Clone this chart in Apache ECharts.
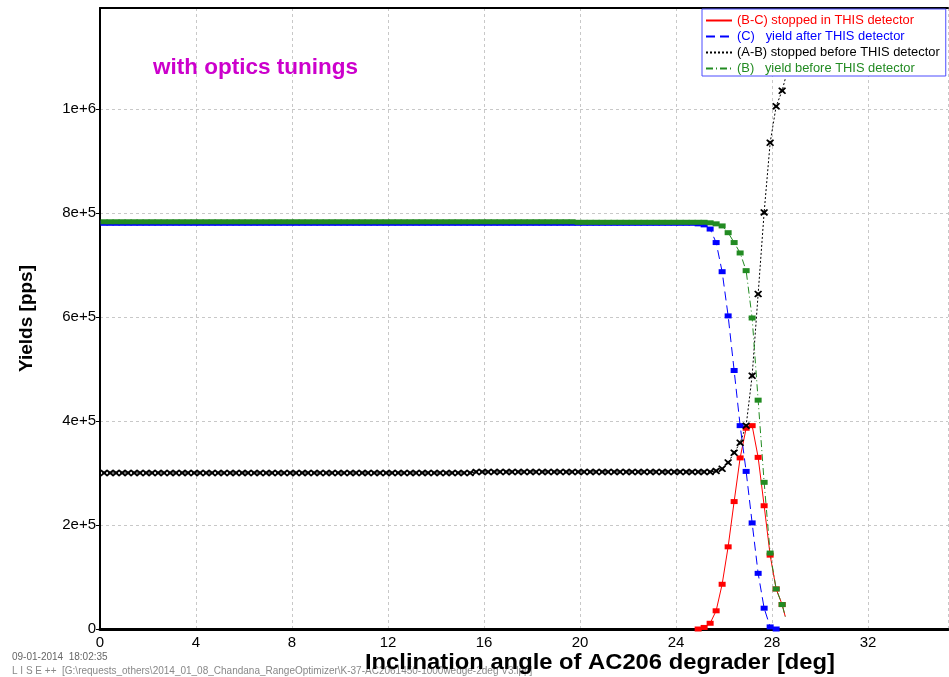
<!DOCTYPE html>
<html>
<head>
<meta charset="utf-8">
<script src="https://cdn.jsdelivr.net/npm/echarts@6/dist/echarts.min.js"></script>
<style>
    html, body { margin: 0; padding: 0; background: #fff; }
    #chart { width: 949px; height: 677px; }
</style>
</head>
<body>
<div id="chart"></div>
<script>
// yields in kpps (axis labels convert back to pps)
var flatAngles = [
    0.17, 0.42, 0.67, 0.92, 1.17, 1.42, 1.67, 1.92,
    2.17, 2.42, 2.67, 2.92, 3.17, 3.42, 3.67, 3.92,
    4.17, 4.42, 4.67, 4.92, 5.17, 5.42, 5.67, 5.92,
    6.17, 6.42, 6.67, 6.92, 7.17, 7.42, 7.67, 7.92,
    8.17, 8.42, 8.67, 8.92, 9.17, 9.42, 9.67, 9.92,
    10.17, 10.42, 10.67, 10.92, 11.17, 11.42, 11.67, 11.92,
    12.17, 12.42, 12.67, 12.92, 13.17, 13.42, 13.67, 13.92,
    14.17, 14.42, 14.67, 14.92, 15.17, 15.42, 15.67, 15.92,
    16.17, 16.42, 16.67, 16.92, 17.17, 17.42, 17.67, 17.92,
    18.17, 18.42, 18.67, 18.92, 19.17, 19.42, 19.67, 19.92,
    20.17, 20.42, 20.67, 20.92, 21.17, 21.42, 21.67, 21.92,
    22.17, 22.42, 22.67, 22.92, 23.17, 23.42, 23.67, 23.92,
    24.17, 24.42, 24.67
];
var blackFlat = [
    300, 300, 300, 300, 300, 300, 300, 300,
    300, 300, 300, 300, 300, 300, 300, 300,
    300, 300, 300, 300, 300, 300, 300, 300,
    300, 300, 300, 300, 300, 300, 300, 300,
    300, 300, 300, 300, 300, 300, 300, 300,
    300, 300, 300, 300, 300, 300, 300, 300,
    300, 300, 300, 300, 300, 300, 300, 300,
    300, 300, 300, 300, 300, 300, 302, 302,
    302, 302, 302, 302, 302, 302, 302, 302,
    302, 302, 302, 302, 302, 302, 302, 302,
    302, 302, 302, 302, 302, 302, 302, 302,
    302, 302, 302, 302, 302, 302, 302, 302,
    302, 302, 302
];
var blueFlat = [
    780, 780, 780, 780, 780, 780, 780, 780,
    780, 780, 780, 780, 780, 780, 780, 780,
    780, 780, 780, 780, 780, 780, 780, 780,
    780, 780, 780, 780, 780, 780, 780, 780,
    780, 780, 780, 780, 780, 780, 780, 780,
    780, 780, 780, 780, 780, 780, 780, 780,
    780, 780, 780, 780, 780, 780, 780, 780,
    780, 780, 780, 780, 780, 780, 780, 780,
    780, 780, 780, 780, 780, 780, 780, 780,
    780, 780, 780, 780, 780, 780, 780, 780,
    780, 780, 780, 780, 780, 780, 780, 780,
    780, 780, 780, 780, 780, 780, 780, 780,
    780, 780, 780
];
var greenFlat = [
    783, 783, 783, 783, 783, 783, 783, 783,
    783, 783, 783, 783, 783, 783, 783, 783,
    783, 783, 783, 783, 783, 783, 783, 783,
    783, 783, 783, 783, 783, 783, 783, 783,
    783, 783, 783, 783, 783, 783, 783, 783,
    783, 783, 783, 783, 783, 783, 783, 783,
    783, 783, 783, 783, 783, 783, 783, 783,
    783, 783, 783, 783, 783, 783, 783, 783,
    783, 783, 783, 783, 783, 783, 783, 783,
    783, 783, 783, 783, 783, 783, 783, 782,
    782, 782, 782, 782, 782, 782, 782, 782,
    782, 782, 782, 782, 782, 782, 782, 782,
    782, 782, 782
];

var tailAngles = [24.92, 25.17, 25.42, 25.67, 25.92, 26.17, 26.42, 26.67,
                  26.92, 27.17, 27.42, 27.67, 27.92, 28.17, 28.42, 28.55];
var redTail   = [0, 3, 11, 35, 86, 158, 245, 329, 386, 391, 330, 237, 142, 77, 47, 24];
var blueTail  = [779, 777, 769, 743, 687, 602, 497, 391, 303, 204, 107, 40, 4, 0, null, null];
var blackTail = [302, 302, 302, 304, 308, 320, 339, 358, 391, 487, 644, 801, 935, 1005, 1035, 1058];
var greenTail = [782, 782, 781, 779, 775, 762, 743, 723, 689, 598, 440, 282, 146, 77, 47, 24];

var names = [
    '(B-C) stopped in THIS detector',
    '(C)   yield after THIS detector',
    '(A-B) stopped before THIS detector',
    '(B)   yield before THIS detector'
];
var colors = ['#ff0000', '#0000ff', '#000000', '#228b22'];

function buildData(flat, tail) {
    var out = [];
    if (flat) {
        for (var i = 0; i < flatAngles.length; i++) {
            out.push([flatAngles[i], flat[i]]);
        }
    }
    for (var j = 0; j < tailAngles.length; j++) {
        if (tail[j] === null) {
            continue;
        }
        // last point only closes the line, no marker
        if (j === tailAngles.length - 1) {
            out.push({value: [tailAngles[j], tail[j]], symbol: 'none'});
        }
        else {
            out.push([tailAngles[j], tail[j]]);
        }
    }
    return out;
}

var star = 'path://M0,3L3,0L10,6L17,0L20,3L14,10L20,17L17,20L10,14L3,20L0,17L6,10Z';
var font = 'Liberation Sans';

var chart = echarts.init(document.getElementById('chart'));

var option = {
    backgroundColor: '#fff',
    animation: false,
    textStyle: {fontFamily: font},
    grid: {left: 100, top: 8, right: 1, bottom: 48},
    legend: {
        orient: 'vertical',
        left: 702,
        top: 9,
        padding: [5, 6, 1, 3],
        itemGap: 3,
        itemWidth: 26,
        itemHeight: 12,
        backgroundColor: '#fff',
        borderColor: '#4c4cff',
        borderWidth: 1,
        borderRadius: 0,
        itemStyle: {opacity: 0},
        textStyle: {fontSize: 12.9, lineHeight: 13, fontFamily: font},
        data: names.map(function (n, i) {
            return {name: n, textStyle: {color: colors[i]}};
        })
    },
    xAxis: [
        {
            type: 'value',
            min: 0,
            max: 35.33,
            interval: 4,
            axisLine: {show: true, lineStyle: {color: '#000', width: 3}},
            axisTick: {show: false},
            axisLabel: {fontSize: 15, color: '#000', margin: 6, showMaxLabel: false},
            splitLine: {show: true, lineStyle: {color: '#c8c8c8', type: [3, 3]}}
        },
        {
            type: 'value',
            position: 'top',
            min: 0,
            max: 35.33,
            interval: 4,
            axisLine: {show: true, lineStyle: {color: '#000', width: 2}},
            axisTick: {show: false},
            axisLabel: {show: false},
            splitLine: {show: false}
        }
    ],
    yAxis: {
        type: 'value',
        min: 0,
        max: 1194,
        interval: 200,
        name: 'Yields [pps]',
        nameLocation: 'middle',
        nameGap: 64,
        nameTextStyle: {fontSize: 19, fontWeight: 'bold', color: '#000'},
        axisLine: {show: true, lineStyle: {color: '#000', width: 2}},
        axisTick: {show: true, length: 4, lineStyle: {color: '#000'}},
        axisLabel: {
            fontSize: 15,
            color: '#000',
            margin: 4,
            showMaxLabel: false,
            formatter: function (v) {
                return v === 0 ? '0' : (v * 1000).toExponential();
            }
        },
        splitLine: {show: true, lineStyle: {color: '#c8c8c8', type: [3, 3]}}
    },
    graphic: [
        {
            type: 'text', left: 153, top: 56,
            style: {text: 'with optics tunings', fill: '#cc00cc',
                    font: 'bold 22.5px "Liberation Sans"'}
        },
        {
            type: 'text', left: 365, top: 652, scaleX: 1.08,
            style: {text: 'Inclination angle of AC206 degrader [deg]', fill: '#000',
                    font: 'bold 22px "Liberation Sans"'}
        },
        {
            type: 'text', left: 12, top: 652, z: -1,
            style: {text: '09-01-2014  18:02:35', fill: '#666',
                    font: '10px "Liberation Sans"'}
        },
        {
            type: 'text', left: 12, top: 666, z: -1,
            style: {
                text: 'L I S E ++  [G:\\requests_others\\2014_01_08_Chandana_RangeOptimizer\\K-37-AC2061450-1000wedge-2deg V3.lpp]',
                fill: '#888',
                font: '10px "Liberation Sans"'
            }
        }
    ],
    series: [
        {
            name: names[0],
            type: 'line',
            data: buildData(null, redTail),
            symbol: 'rect',
            symbolSize: [7, 5],
            itemStyle: {color: colors[0]},
            lineStyle: {color: colors[0], width: 1, type: 'solid'}
        },
        {
            name: names[1],
            type: 'line',
            data: buildData(blueFlat, blueTail),
            symbol: 'rect',
            symbolSize: [7, 5],
            itemStyle: {color: colors[1]},
            lineStyle: {color: colors[1], width: 1, type: [9, 5]}
        },
        {
            name: names[2],
            type: 'line',
            data: buildData(blackFlat, blackTail),
            symbol: star,
            symbolSize: [8, 7],
            itemStyle: {color: colors[2]},
            lineStyle: {color: colors[2], width: 1, type: [2, 2]}
        },
        {
            name: names[3],
            type: 'line',
            data: buildData(greenFlat, greenTail),
            symbol: 'rect',
            symbolSize: [7, 5],
            itemStyle: {color: colors[3]},
            lineStyle: {color: colors[3], width: 1, type: [7, 3, 1, 3]}
        }
    ]
};

chart.setOption(option);
</script>
</body>
</html>
